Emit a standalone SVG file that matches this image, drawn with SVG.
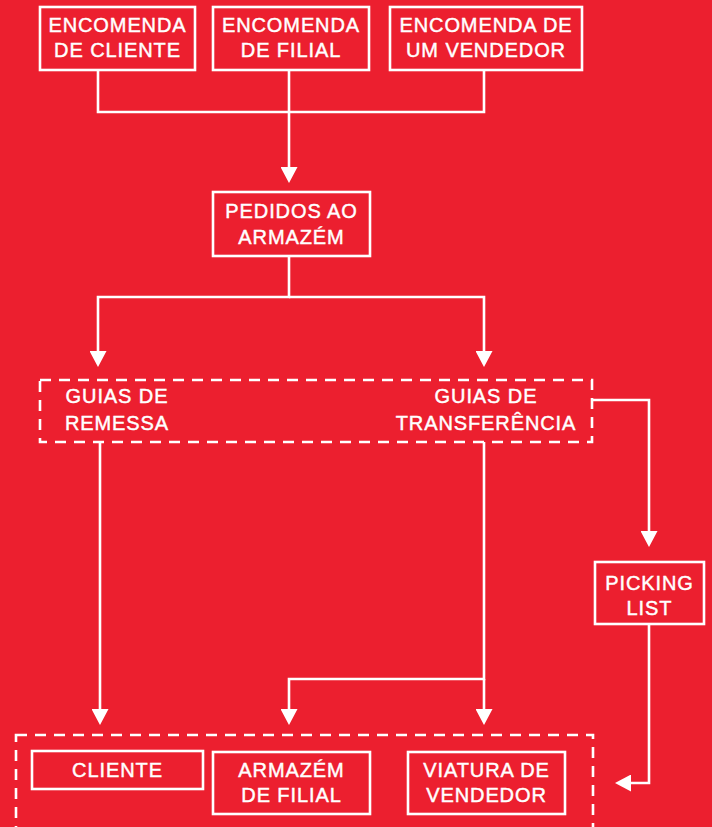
<svg xmlns="http://www.w3.org/2000/svg" width="712" height="827" viewBox="0 0 712 827">
<style>
.bg{fill:#EC1F2F}
.box{fill:none;stroke:#fff;stroke-width:2.6}
.dash{fill:none;stroke:#fff;stroke-width:2.6;stroke-dasharray:11 8}
.con{fill:none;stroke:#fff;stroke-width:2.6}
text{font-family:"Liberation Sans",Arial,sans-serif;font-size:20px;fill:#fff;stroke:#fff;stroke-width:0.45;text-anchor:middle;letter-spacing:0.9px}
</style>
<defs>
<marker id="arr" markerUnits="userSpaceOnUse" viewBox="0 0 16 17" markerWidth="16" markerHeight="17" refX="8" refY="8.5" orient="auto">
<path d="M0,0 L16,8.5 L0,17 Z" fill="#fff"/>
</marker>
</defs>
<rect class="bg" x="0" y="0" width="712" height="827"/>
<g id="connectors">
<path class="con" d="M98,70 V112 H484 V70"/>
<path class="con" d="M289,70 V175" marker-end="url(#arr)"/>
<path class="con" d="M289,256 V297 H98 V359" marker-end="url(#arr)"/>
<path class="con" d="M289,297 H484 V359" marker-end="url(#arr)"/>
<path class="con" d="M100,442 V717" marker-end="url(#arr)"/>
<path class="con" d="M484,442 V679 H289 V717" marker-end="url(#arr)"/>
<path class="con" d="M484,679 V717" marker-end="url(#arr)"/>
<path class="con" d="M592,400 H649 V539" marker-end="url(#arr)"/>
<path class="con" d="M649,624 V783 H623" marker-end="url(#arr)"/>
</g>
<g id="encomenda-cliente">
<rect class="box" x="40" y="7" width="155" height="63"/>
<text x="117.5" y="32">ENCOMENDA</text>
<text x="117.5" y="57">DE CLIENTE</text>
</g>
<g id="encomenda-filial">
<rect class="box" x="213" y="7" width="156" height="63"/>
<text x="291" y="32">ENCOMENDA</text>
<text x="291" y="57">DE FILIAL</text>
</g>
<g id="encomenda-vendedor">
<rect class="box" x="390" y="7" width="192" height="63"/>
<text x="486" y="32">ENCOMENDA DE</text>
<text x="486" y="57">UM VENDEDOR</text>
</g>
<g id="pedidos">
<rect class="box" x="213" y="192" width="157" height="64"/>
<text x="291.5" y="218">PEDIDOS AO</text>
<text x="291.5" y="244">ARMAZÉM</text>
</g>
<g id="guias">
<rect class="dash" x="40" y="380" width="552" height="62"/>
<text x="117" y="403">GUIAS DE</text>
<text x="117" y="430">REMESSA</text>
<text x="486" y="403">GUIAS DE</text>
<text x="486" y="430">TRANSFERÊNCIA</text>
</g>
<g id="picking-list">
<rect class="box" x="595" y="562" width="109" height="62"/>
<text x="649.5" y="590">PICKING</text>
<text x="649.5" y="615">LIST</text>
</g>
<g id="destinos">
<rect class="dash" x="16" y="735" width="577" height="120"/>
</g>
<g id="cliente">
<rect class="box" x="32" y="751" width="171" height="38"/>
<text x="117.5" y="777">CLIENTE</text>
</g>
<g id="armazem-filial">
<rect class="box" x="213" y="752" width="157" height="62"/>
<text x="291.5" y="777">ARMAZÉM</text>
<text x="291.5" y="802">DE FILIAL</text>
</g>
<g id="viatura-vendedor">
<rect class="box" x="408" y="752" width="157" height="62"/>
<text x="486.5" y="777">VIATURA DE</text>
<text x="486.5" y="802">VENDEDOR</text>
</g>
</svg>
